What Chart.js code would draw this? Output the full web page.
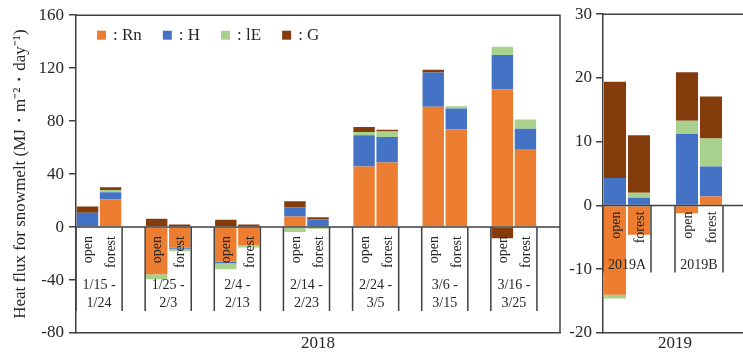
<!DOCTYPE html>
<html>
<head>
<meta charset="utf-8">
<script src="https://cdn.jsdelivr.net/npm/chart.js@4/dist/chart.umd.min.js"></script>
<style>
  html, body { margin: 0; padding: 0; background: #fff; width: 743px; height: 354px; overflow: hidden; }
  canvas { position: absolute; top: 0; }
  #left { left: 0; z-index: 1; }
  #right { left: 560px; z-index: 2; }
</style>
</head>
<body>
<canvas id="left" width="562" height="354"></canvas>
<canvas id="right" width="200" height="354"></canvas>
<script>
// ---- data (MJ m-2 day-1), bars per period: [open, forest] ----
const sites = ["open", "forest"];
const periods2018 = [
  ["1/15 -", "1/24"], ["1/25 -", "2/3"], ["2/4 -", "2/13"], ["2/14 -", "2/23"],
  ["2/24 -", "3/5"], ["3/6 -", "3/15"], ["3/16 -", "3/25"],
];
const rn2018 = [0, 20.8, -35.7, -15.7, -26.2, -13.7, 8, 0, 45.8, 48.8, 90.8, 73.8, 103.8, 58.3];
const h2018  = [10.8, 5.5, 0, -0.7, -1.2, 0, 7, 5.8, 23.5, 19.3, 26, 15.7, 26.2, 16];
const le2018 = [0, 1.7, -3.8, -1.8, -4.5, -1.7, -3.7, -1.2, 2.5, 4, 0, 1.7, 6.2, 7];
const g2018  = [4.7, 2, 6.3, 2, 5.5, 2, 4.5, 1.7, 3.8, 1.3, 2, 0, -8.5, 0];

const periods2019 = [["2019A"], ["2019B"]];
const rn2019 = [-14, -4.6, -1.2, 1.4];
const h2019  = [4.3, 1.2, 11.2, 4.7];
const le2019 = [-0.6, 0.8, 2.1, 4.4];
const g2019  = [15.1, 9, 7.6, 6.6];

const ticks2018 = { min: -80, max: 160, step: 40 };
const ticks2019 = { min: -20, max: 30, step: 10 };

const seriesNames = [": Rn", ": H", ": lE", ": G"];
const seriesColors = ["#ED7D31", "#4472C4", "#A9D18E", "#843C0C"];

const SERIF = '"Liberation Serif", "Times New Roman", serif';
const INK = "#262626";
const LINE = "#404040";

// open, forest, then an empty slot after each period
function slots(values) {
  const out = [];
  for (let i = 0; i < values.length; i += 2) out.push(values[i], values[i + 1], null);
  return out;
}

const panelDecor = {
  id: "panelDecor",
  afterDatasetsDraw(chart, args, opts) {
    const { ctx, chartArea: a, scales: { x, y } } = chart;
    const zero = y.getPixelForValue(0);
    const slot = (x.right - x.left) / chart.data.labels.length;
    ctx.save();
    ctx.strokeStyle = LINE;
    ctx.lineWidth = 1.5;
    ctx.beginPath();
    ctx.moveTo(a.left, a.top);
    ctx.lineTo(a.right, a.top);
    ctx.lineTo(a.right, a.bottom);
    ctx.moveTo(a.left, zero);
    ctx.lineTo(a.right, zero);
    ctx.stroke();

    ctx.fillStyle = INK;
    opts.groups.forEach((lines, g) => {
      const l = x.getPixelForValue(3 * g) - slot / 2;
      const r = x.getPixelForValue(3 * g + 1) + slot / 2;
      ctx.beginPath();
      ctx.moveTo(l, zero);
      ctx.lineTo(l, zero + opts.depth);
      ctx.moveTo(r, zero);
      ctx.lineTo(r, zero + opts.depth);
      ctx.stroke();

      ctx.font = "14px " + SERIF;
      sites.forEach((s, k) => {
        ctx.save();
        ctx.translate(x.getPixelForValue(3 * g + k) + 1, zero + opts.siteGap);
        ctx.rotate(-Math.PI / 2);
        ctx.textAlign = "right";
        ctx.textBaseline = "middle";
        ctx.fillText(s, 0, 0);
        ctx.restore();
      });

      ctx.textAlign = "center";
      ctx.textBaseline = "middle";
      lines.forEach((t, i) => ctx.fillText(t, (l + r) / 2, zero + opts.labelY[i]));
    });

    if (opts.legend) {
      ctx.font = "17px " + SERIF;
      ctx.textAlign = "left";
      ctx.textBaseline = "middle";
      let lx = a.left + 21;
      const ly = a.top + 20;
      chart.data.datasets.forEach((ds) => {
        ctx.fillStyle = ds.backgroundColor;
        ctx.fillRect(lx, ly - 4.5, 9, 9);
        ctx.fillStyle = INK;
        ctx.fillText(ds.label, lx + 16, ly);
        lx += 16 + ctx.measureText(ds.label).width + 21;
      });
    }
    ctx.restore();
  },
};

function makePanel(id, cfg) {
  const n = cfg.groups.length * 3;
  const datasets = cfg.series.map((vals, i) => ({
    label: seriesNames[i],
    data: slots(vals),
    backgroundColor: seriesColors[i],
    barPercentage: cfg.barPct,
    categoryPercentage: 1,
  }));
  return new Chart(document.getElementById(id), {
    type: "bar",
    data: { labels: Array.from({ length: n }, (_, i) => String(i)), datasets },
    plugins: [panelDecor],
    options: {
      responsive: false,
      animation: false,
      layout: { padding: { top: 14, right: cfg.padRight, left: 0, bottom: 0 } },
      plugins: {
        legend: { display: false },
        tooltip: { enabled: false },
        panelDecor: {
          groups: cfg.groups,
          depth: cfg.depth,
          siteGap: cfg.siteGap,
          labelY: cfg.labelY,
          legend: cfg.legend,
        },
      },
      scales: {
        x: {
          stacked: true,
          ticks: { display: false },
          grid: { display: false },
          border: { display: true, color: LINE, width: 1.5 },
          title: {
            display: true,
            text: cfg.xTitle,
            color: INK,
            font: { family: SERIF, size: 17 },
            padding: { top: 0, bottom: 0 },
          },
          afterFit: (s) => { s.height = 21; },
        },
        y: {
          stacked: true,
          min: cfg.ticks.min,
          max: cfg.ticks.max,
          ticks: {
            stepSize: cfg.ticks.step,
            color: INK,
            padding: cfg.tickPad,
            font: { family: SERIF, size: 17 },
          },
          grid: { drawOnChartArea: false, drawTicks: true, tickLength: 7, color: LINE, lineWidth: 1.5 },
          border: { display: true, color: LINE, width: 1.5 },
          title: {
            display: !!cfg.yTitle,
            text: cfg.yTitle,
            color: INK,
            font: { family: SERIF, size: 17 },
            padding: { top: 10, bottom: 0 },
          },
          afterFit: (s) => { s.width = cfg.yWidth; },
        },
      },
    },
  });
}

makePanel("left", {
  groups: periods2018,
  series: [rn2018, h2018, le2018, g2018],
  ticks: ticks2018,
  xTitle: "2018",
  yTitle: "Heat flux for snowmelt (MJ・m⁻²・day⁻¹)",
  yWidth: 76,
  padRight: 2,
  tickPad: 5,
  barPct: 0.93,
  depth: 84,
  siteGap: 9,
  labelY: [58, 76],
  legend: true,
});

makePanel("right", {
  groups: periods2019,
  series: [rn2019, h2019, le2019, g2019],
  ticks: ticks2019,
  xTitle: "2019",
  yTitle: "",
  yWidth: 43,
  padRight: 13,
  tickPad: 4,
  barPct: 0.92,
  depth: 67,
  siteGap: 6,
  labelY: [60],
  legend: false,
});
</script>
</body>
</html>
